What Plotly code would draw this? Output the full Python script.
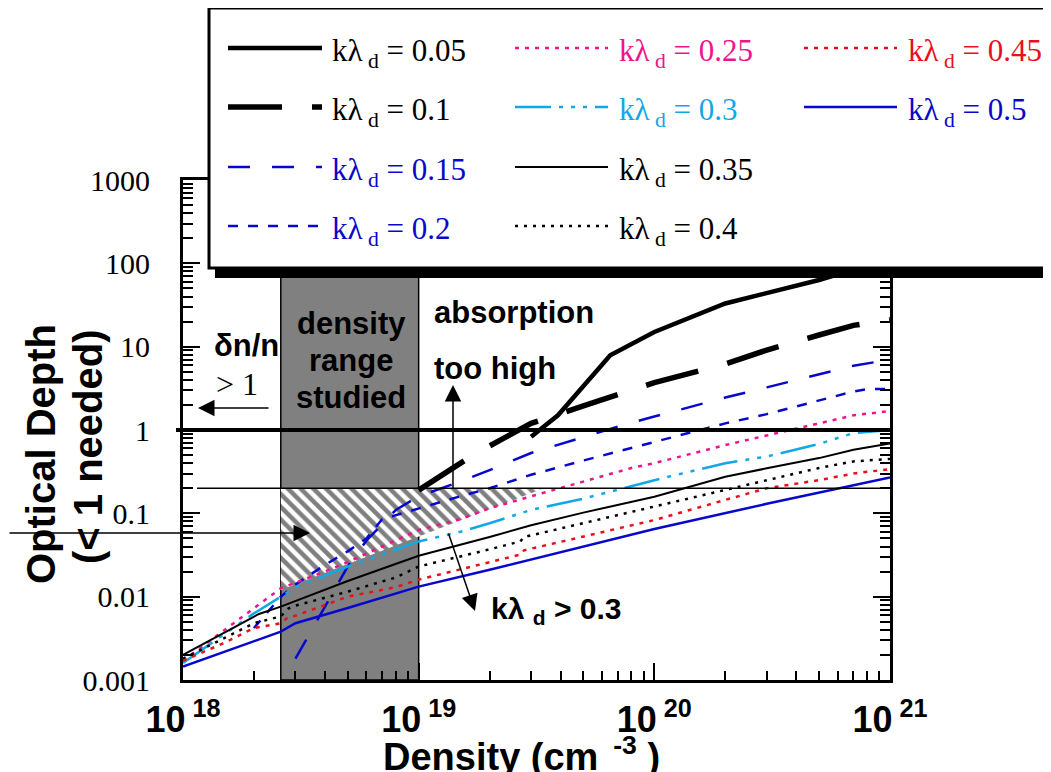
import plotly.graph_objects as go

# ---------------- data ----------------
kld_labels = ["0.05", "0.1", "0.15", "0.2", "0.25", "0.3", "0.35", "0.4", "0.45", "0.5"]

x_005 = [3.0e19, 3.9e19, 6.5e19, 1e20, 2e20, 5e20, 1e21]
y_005 = [0.83, 1.5, 7.9, 15, 33, 63, 115]

x_010 = [1e19, 1.7e19, 2.3e19, 3e19, 5e19, 1e20, 2e20, 3e20, 5e20, 7e20, 1e21]
y_010 = [0.19, 0.5, 0.8, 1.2, 1.95, 3.7, 6.2, 9.1, 13.8, 18, 21]

x_015 = [3e18, 4e18, 5e18, 6e18, 8e18, 1e19, 1.5e19, 2e19, 3e19, 5e19, 7e19, 1e20,
         2e20, 3e20, 5e20, 7e20, 1e21]
y_015 = [0.0018, 0.0075, 0.023, 0.047, 0.11, 0.16, 0.24, 0.33, 0.53, 0.82, 1.1, 1.45,
         2.45, 3.25, 4.6, 5.9, 7.0]

x_020 = [2e18, 2.6e18, 3e18, 4e18, 5e18, 6e18, 7e18, 8e18, 1e19, 1.5e19, 2e19, 3e19,
         5e19, 7e19, 1e20, 2e20, 3e20, 5e20, 7e20, 8e20, 1e21]
y_020 = [0.0042, 0.010, 0.014, 0.024, 0.035, 0.05, 0.085, 0.095, 0.115, 0.16, 0.2, 0.29,
         0.43, 0.55, 0.72, 1.2, 1.55, 2.25, 2.9, 3.1, 3.1]

x_025 = [1e18, 1.5e18, 2e18, 2.6e18, 4e18, 5e18, 7e18, 1e19, 1.5e19, 2e19, 3e19, 5e19,
         8e19, 1e20, 2e20, 3e20, 5e20, 7e20, 1e21]
y_025 = [0.0017, 0.004, 0.0072, 0.0126, 0.02, 0.026, 0.04, 0.063, 0.085, 0.115, 0.16, 0.24,
         0.35, 0.4, 0.66, 0.86, 1.2, 1.5, 1.69]

x_030 = [1e18, 1.5e18, 2e18, 2.6e18, 3e18, 5e18, 1e19, 1.5e19, 2e19, 3e19, 5e19, 1e20,
         2e20, 3e20, 5e20, 7e20, 1e21]
y_030 = [0.0016, 0.0036, 0.0063, 0.010, 0.013, 0.023, 0.046, 0.06, 0.076, 0.11, 0.15, 0.25,
         0.4, 0.48, 0.68, 0.92, 1.0]

x_035 = [1e18, 2.1e18, 2.6e18, 5e18, 1e19, 2e19, 3e19, 5e19, 1e20, 2e20, 3e20, 5e20, 7e20, 1e21]
y_035 = [0.002, 0.0062, 0.0076, 0.0154, 0.031, 0.052, 0.072, 0.102, 0.158, 0.275, 0.347,
         0.46, 0.58, 0.69]

x_040 = [1e18, 1.5e18, 2e18, 2.6e18, 2.8e18, 3e18, 5e18, 8e18, 1e19, 2e19, 2.7e19, 2.8e19,
         5e19, 1e20, 2e20, 3e20, 5e20, 7e20, 1e21]
y_040 = [0.0018, 0.0032, 0.0048, 0.0058, 0.0072, 0.0078, 0.0115, 0.017, 0.023, 0.037, 0.046,
         0.052, 0.076, 0.12, 0.19, 0.25, 0.35, 0.42, 0.45]

x_045 = [1e18, 1.5e18, 2e18, 2.6e18, 2.8e18, 3e18, 5e18, 8e18, 1e19, 2e19, 2.7e19, 2.8e19,
         5e19, 1e20, 2e20, 3e20, 5e20, 7e20, 1e21]
y_045 = [0.0017, 0.0028, 0.0042, 0.0048, 0.0057, 0.0059, 0.01, 0.013, 0.016, 0.026, 0.032,
         0.036, 0.053, 0.083, 0.145, 0.2, 0.25, 0.3, 0.34]

x_050 = [1e18, 2.6e18, 3e18, 5e18, 1e19, 2e19, 1e20, 3e20, 1e21]
y_050 = [0.00145, 0.0038, 0.0048, 0.0073, 0.0132, 0.021, 0.065, 0.13, 0.27]

# studied density range and hatched region
range_x = [2.6e18, 1e19]
hatch_x = [2.6e18, 3.4e19, 1e19, 2.6e18, 2.6e18]
hatch_y = [0.2, 0.2, 0.0526, 0.012, 0.2]
limit_lines_y = [1.0, 0.2]

x_tickvals = [1e18, 1e19, 1e20, 1e21]
x_ticktext = ["10<sup> 18</sup>", "10<sup> 19</sup>", "10<sup> 20</sup>", "10<sup> 21</sup>"]
y_tickvals = [0.001, 0.01, 0.1, 1, 10, 100, 1000]
y_ticktext = ["0.001", "0.01", "0.1", "1", "10", "100", "1000"]

# ---------------- styles ----------------
BLACK = "#000000"
PINK = "#F0148C"
CYAN = "#12A8E6"
RED = "#E8101A"
BLUE = "#0808CC"
SANS = "Arial, Liberation Sans, sans-serif"
SERIF = "Times New Roman, Liberation Serif, serif"

series = [
    (x_005, y_005, BLACK, "solid", 4.5, BLACK),
    (x_010, y_010, BLACK, "54px,30px", 5.5, BLACK),
    (x_015, y_015, BLUE, "22px,22px", 2.5, BLUE),
    (x_020, y_020, BLUE, "10px,10px", 2.5, BLUE),
    (x_025, y_025, PINK, "4px,6px", 2.5, PINK),
    (x_030, y_030, CYAN, "36px,8px,4px,8px,4px,8px,4px,8px", 2.5, CYAN),
    (x_035, y_035, BLACK, "solid", 2, BLACK),
    (x_040, y_040, BLACK, "3px,6px", 2.5, BLACK),
    (x_045, y_045, RED, "4px,6px", 2.5, RED),
    (x_050, y_050, BLUE, "solid", 2.5, BLUE),
]

# page has an 8px body margin; plot area in page pixels: x 183..890, y 180..680
OFF = 8
PX0, PX1, PY0, PY1 = 183, 890, 180, 680
W, H = 1051 - OFF, 772 - OFF
L, T = PX0 - OFF, PY0 - OFF
PW, PH = PX1 - PX0, PY1 - PY0
R, B = W - L - PW, H - T - PH


def px(xp):
    return (xp - PX0) / PW


def py(yp):
    return (PY1 - yp) / PH


fig = go.Figure()

# hatched region
fig.add_trace(go.Scatter(
    x=hatch_x, y=hatch_y, mode="lines", fill="toself", line=dict(width=0),
    fillcolor="white",
    fillpattern=dict(shape="\\", fgcolor="black", bgcolor="white", size=9, solidity=0.5),
    hoverinfo="skip", showlegend=False))

for xs, ys, col, dash, w, _ in series:
    fig.add_trace(go.Scatter(x=xs, y=ys, mode="lines",
                             line=dict(color=col, dash=dash, width=w),
                             showlegend=False))

shapes = []
# grey studied range
shapes.append(dict(type="rect", xref="x", yref="paper", x0=range_x[0], x1=range_x[1],
                   y0=0, y1=1, fillcolor="#808080", line=dict(color="black", width=1.5),
                   layer="below"))
# limit lines
shapes.append(dict(type="line", xref="paper", yref="y", x0=px(176), x1=1,
                   y0=limit_lines_y[0], y1=limit_lines_y[0],
                   line=dict(color="black", width=4), layer="above"))
shapes.append(dict(type="line", xref="paper", yref="y", x0=px(197), x1=1,
                   y0=limit_lines_y[1], y1=limit_lines_y[1],
                   line=dict(color="black", width=1.5), layer="above"))

# legend box with shadow
shapes.append(dict(type="rect", xref="paper", yref="paper", x0=px(215), x1=px(1100),
                   y0=py(278), y1=py(14), fillcolor="black", line=dict(width=0),
                   layer="above"))
shapes.append(dict(type="rect", xref="paper", yref="paper", x0=px(209), x1=px(1100),
                   y0=py(268), y1=py(8), fillcolor="white",
                   line=dict(color="black", width=3), layer="above"))

annotations = []
col_line_x = [(228, 322), (515, 608), (804, 897)]
col_text_x = [330, 617, 906]
row_y = [48, 107, 167, 226]
for i, (xs, ys, col, dash, w, tcol) in enumerate(series):
    c, r = (i // 4, i % 4) if i < 8 else (2, i - 8)
    x0, x1 = col_line_x[c]
    shapes.append(dict(type="line", xref="paper", yref="paper", x0=px(x0), x1=px(x1),
                       y0=py(row_y[r]), y1=py(row_y[r]),
                       line=dict(color=col, dash=dash, width=w), layer="above"))
    annotations.append(dict(xref="paper", yref="paper", x=px(col_text_x[c]),
                            y=py(row_y[r] + 5), xanchor="left", yanchor="middle",
                            text="kλ<sub> d</sub> = " + kld_labels[i],
                            showarrow=False,
                            font=dict(family=SERIF, size=31, color=tcol)))

# text annotations
for txt, yy in [("density", 323), ("range", 360), ("studied", 397)]:
    annotations.append(dict(xref="paper", yref="paper", x=px(351), y=py(yy),
                            xanchor="center", yanchor="middle", text="<b>%s</b>" % txt,
                            showarrow=False, font=dict(family=SANS, size=31, color="black")))
annotations.append(dict(xref="paper", yref="paper", x=px(432), y=py(312), xanchor="left",
                        yanchor="middle", text="<b>absorption</b>", showarrow=False,
                        font=dict(family=SANS, size=31, color="black")))
annotations.append(dict(xref="paper", yref="paper", x=px(432), y=py(368), xanchor="left",
                        yanchor="middle", text="<b>too high</b>", showarrow=False,
                        font=dict(family=SANS, size=31, color="black")))
annotations.append(dict(xref="paper", yref="paper", x=px(281), y=py(345), xanchor="right",
                        yanchor="middle", text="<b>δn/n</b>", showarrow=False,
                        font=dict(family=SANS, size=31, color="black")))
annotations.append(dict(xref="paper", yref="paper", x=px(214), y=py(384), xanchor="left",
                        yanchor="middle", text="> 1", showarrow=False,
                        font=dict(family=SERIF, size=32, color="black")))
annotations.append(dict(xref="paper", yref="paper", x=px(489), y=py(610), xanchor="left",
                        yanchor="middle", text="<b>kλ <sub>d</sub> > 0.3</b>",
                        showarrow=False, font=dict(family=SANS, size=30, color="black")))

# arrows
for tip, dx, dy in [((198, 408), 72, 0), ((453, 385), 0, 105),
                    ((475, 611), -27, -79), ((310, 533), -320, 0)]:
    annotations.append(dict(xref="paper", yref="paper", x=px(tip[0]), y=py(tip[1]),
                            ax=dx, ay=dy, text="", showarrow=True, arrowhead=2,
                            arrowsize=2.2, arrowwidth=1.5, arrowcolor="black"))

# axis titles
annotations.append(dict(xref="paper", yref="paper", x=px(521), y=py(754), xanchor="center",
                        yanchor="middle", text="<b>Density (cm<sup>  -3</sup> )</b>",
                        showarrow=False, font=dict(family=SANS, size=38, color="black")))
annotations.append(dict(xref="paper", yref="paper", x=px(41), y=py(454), xanchor="center",
                        yanchor="middle", text="<b>Optical Depth</b>", textangle=-90,
                        showarrow=False, font=dict(family=SANS, size=40, color="black")))
annotations.append(dict(xref="paper", yref="paper", x=px(88), y=py(447), xanchor="center",
                        yanchor="middle", text="<b>(< 1 needed)</b>", textangle=-90,
                        showarrow=False, font=dict(family=SANS, size=40, color="black")))

minor_x = [m * 10.0 ** e for e in range(18, 21) for m in range(2, 10)]
minor_y = [m * 10.0 ** e for e in range(-3, 3) for m in range(2, 10)]

fig.update_layout(
    width=W, height=H, margin=dict(l=L, r=R, t=T, b=B),
    plot_bgcolor="white", paper_bgcolor="white", showlegend=False,
    shapes=shapes, annotations=annotations,
    xaxis=dict(type="log", range=[18, 21], showgrid=False, zeroline=False,
               showline=True, linecolor="black", linewidth=3, mirror="ticks",
               ticks="inside", ticklen=17, tickwidth=2, tickcolor="black",
               tickmode="array", tickvals=x_tickvals, ticktext=x_ticktext,
               ticklabelstandoff=6,
               tickfont=dict(family=SANS, size=36, color="black", weight="bold"),
               minor=dict(tickmode="array", tickvals=minor_x, ticks="inside",
                          ticklen=9, tickwidth=1.5, tickcolor="black", showgrid=False)),
    yaxis=dict(type="log", range=[-3, 3], showgrid=False, zeroline=False,
               showline=True, linecolor="black", linewidth=3, mirror="ticks",
               ticks="inside", ticklen=17, tickwidth=2, tickcolor="black",
               tickmode="array", tickvals=y_tickvals, ticktext=y_ticktext,
               ticklabelstandoff=24,
               tickfont=dict(family=SERIF, size=30, color="black"),
               minor=dict(tickmode="array", tickvals=minor_y, ticks="inside",
                          ticklen=10, tickwidth=1.5, tickcolor="black", showgrid=False)),
)

fig.write_html("out.html")
